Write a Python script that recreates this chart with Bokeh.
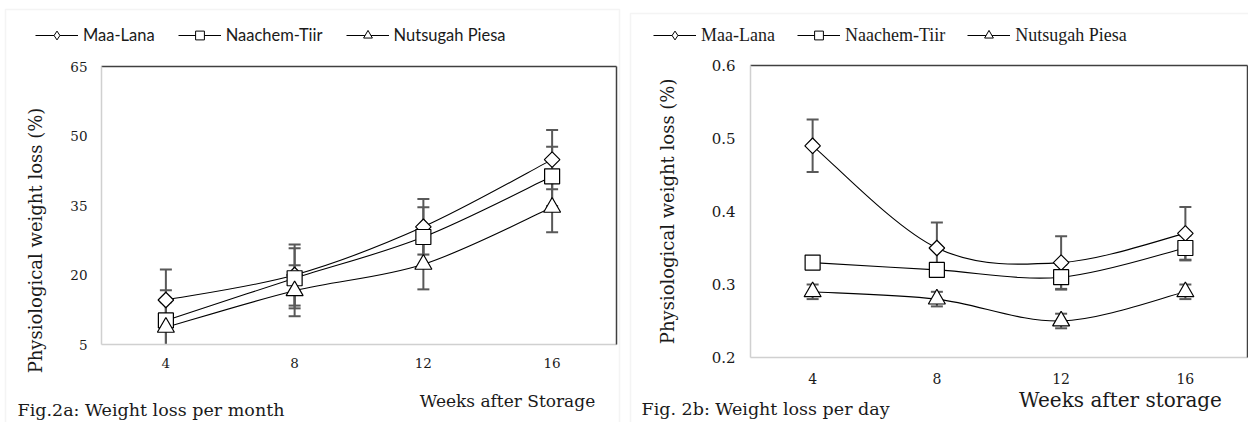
import math
from bokeh.plotting import figure
from bokeh.models import (Range1d, FixedTicker, LinearAxis, Legend, LegendItem,
                          Label, BoxAnnotation)
from bokeh.layouts import row
from bokeh.embed import file_html
from bokeh.resources import INLINE

# ---------------- data ----------------
weeks = [4, 8, 12, 16]
week_labels = ["4", "8", "12", "16"]
series_names = ["Maa-Lana", "Naachem-Tiir", "Nutsugah Piesa"]

# Fig 2a: weight loss per month (%)
month_maa = [14.6, 20.0, 30.4, 44.9]
month_naa = [10.2, 19.3, 28.2, 41.3]
month_nut = [8.7, 16.6, 22.3, 34.6]
month_maa_err = [6.6, 6.6, 6.0, 6.4]
month_naa_err = [6.5, 6.5, 6.4, 6.4]
month_nut_err = [5.4, 5.5, 5.4, 5.4]
month_yticks = [5, 20, 35, 50, 65]

# Fig 2b: weight loss per day (%)
day_maa = [0.49, 0.35, 0.33, 0.37]
day_naa = [0.33, 0.32, 0.31, 0.35]
day_nut = [0.29, 0.28, 0.25, 0.29]
day_maa_err = [0.036, 0.035, 0.036, 0.036]
day_naa_err = [0.005, 0.005, 0.017, 0.017]
day_nut_err = [0.010, 0.010, 0.010, 0.010]
day_yticks = [0.2, 0.3, 0.4, 0.5, 0.6]

# ---------------- style ----------------
DARK = "#404040"
LIGHT = "#d0d0d0"
ERRC = "#595959"
TXT = "#1a1a1a"
SERIF = "DejaVu Serif"
H = 422


def smooth_segments(xs, ys):
    """Excel-like smoothed line: cubic Bezier segments through the data points."""
    n = len(xs)
    out = dict(x0=[], y0=[], x1=[], y1=[], cx0=[], cy0=[], cx1=[], cy1=[])
    for i in range(n - 1):
        xp, yp = (xs[i - 1], ys[i - 1]) if i > 0 else (xs[i], ys[i])
        xn, yn = (xs[i + 2], ys[i + 2]) if i + 2 < n else (xs[i + 1], ys[i + 1])
        out["x0"].append(xs[i]); out["y0"].append(ys[i])
        out["x1"].append(xs[i + 1]); out["y1"].append(ys[i + 1])
        out["cx0"].append(xs[i] + (xs[i + 1] - xp) / 6.0)
        out["cy0"].append(ys[i] + (ys[i + 1] - yp) / 6.0)
        out["cx1"].append(xs[i + 1] - (xn - xs[i]) / 6.0)
        out["cy1"].append(ys[i + 1] - (yn - ys[i]) / 6.0)
    return out


def build_panel(width, area, xlim, ylim, yticks, tick_font_y, tick_font_x,
                y_standoff, x_standoff, values, errs, marker_sizes, legend_font,
                legend_font_size, legend_x, legend_spacing, texts, panel_box):
    # area = pixel box (left, right, top, bottom) of the plotting area inside the canvas
    aL, aR, aT, aB = area
    sx = (aR - aL) / (xlim[1] - xlim[0])
    sy = (aB - aT) / (ylim[1] - ylim[0])
    xr = Range1d(xlim[0] - aL / sx, xlim[1] + (width - aR) / sx)
    yr = Range1d(ylim[0] - (H - aB) / sy, ylim[1] + aT / sy)

    p = figure(width=width, height=H, output_backend="svg", toolbar_location=None,
               x_range=xr, y_range=yr, min_border=0,
               min_border_left=0, min_border_right=0, min_border_top=0,
               min_border_bottom=0, x_axis_type=None, y_axis_type=None)
    p.outline_line_color = None
    p.xgrid.visible = False
    p.ygrid.visible = False
    p.background_fill_color = "white"
    p.border_fill_color = "white"

    # main axes (light grey lines) pinned to the plotting area
    xa = LinearAxis(ticker=FixedTicker(ticks=weeks), fixed_location=ylim[0], bounds=xlim,
                    major_label_overrides={w: l for w, l in zip(weeks, week_labels)})
    ya = LinearAxis(ticker=FixedTicker(ticks=yticks), fixed_location=xlim[0], bounds=ylim)
    for ax, fs, so in ((xa, tick_font_x, x_standoff), (ya, tick_font_y, y_standoff)):
        ax.axis_line_color = LIGHT
        ax.axis_line_width = 1.5
        ax.major_tick_line_color = None
        ax.minor_tick_line_color = None
        ax.major_tick_out = 0
        ax.major_tick_in = 0
        ax.minor_tick_out = 0
        ax.minor_tick_in = 0
        ax.major_label_text_font = SERIF
        ax.major_label_text_font_size = fs
        ax.major_label_text_color = TXT
        ax.major_label_standoff = so
    p.add_layout(xa, "below")
    p.add_layout(ya, "left")

    # dark frame edges on top and right
    for place, loc, bnd in (("above", ylim[1], xlim), ("right", xlim[1], ylim)):
        ed = LinearAxis(ticker=FixedTicker(ticks=[]), axis_line_color=DARK,
                        axis_line_width=1.5, major_tick_line_color=None,
                        minor_tick_line_color=None, major_tick_out=0, minor_tick_out=0,
                        major_tick_in=0, minor_tick_in=0, major_label_standoff=0,
                        major_label_text_font_size="0px", fixed_location=loc, bounds=bnd)
        p.add_layout(ed, place)

    # error bars (stopped at the bottom of the value axis)
    for vals, err in zip(values, errs):
        lo = [max(v - e, ylim[0]) for v, e in zip(vals, err)]
        hi = [v + e for v, e in zip(vals, err)]
        p.segment(x0=weeks, y0=lo, x1=weeks, y1=hi, line_color=ERRC, line_width=2)
        p.scatter(x=weeks, y=hi, marker="dash", size=12, line_color=ERRC, line_width=2)
        lo_vis = [(w, v - e) for w, v, e in zip(weeks, vals, err) if v - e > ylim[0]]
        if lo_vis:
            p.scatter(x=[a for a, _ in lo_vis], y=[b for _, b in lo_vis], marker="dash",
                      size=12, line_color=ERRC, line_width=2)

    # smoothed lines
    for vals in values:
        seg = smooth_segments(weeks, vals)
        p.bezier(source=seg, x0="x0", y0="y0", x1="x1", y1="y1", cx0="cx0", cy0="cy0",
                 cx1="cx1", cy1="cy1", line_color="black", line_width=1.1)

    # legend helpers: one-point renderers hidden under the first real marker
    legend_markers = ["diamond", "square", "triangle"]
    legend_parts = []
    for vals, lm in zip(values, legend_markers):
        lr = p.line(x=weeks[:1], y=vals[:1], line_color="black", line_width=1.1)
        mr = p.scatter(x=weeks[:1], y=vals[:1], marker=lm, size=1, fill_color="white",
                       line_color="black", line_width=1.0)
        legend_parts.append((lr, mr))

    # markers
    markers = [("square", math.pi / 4, marker_sizes[0]), ("square", 0, marker_sizes[1]),
               ("triangle", 0, marker_sizes[2])]
    items = []
    for name, vals, (mk, ang, sz), (lr, mr) in zip(series_names, values, markers,
                                                   legend_parts):
        p.scatter(x=weeks, y=vals, marker=mk, angle=ang, size=sz,
                  fill_color="white", line_color="black", line_width=1.2)
        items.append(LegendItem(label=name, renderers=[lr, mr]))

    leg = Legend(items=items, orientation="horizontal", location=(legend_x, H - 26 - 20),
                 glyph_width=43, glyph_height=22, label_standoff=5, spacing=legend_spacing,
                 padding=0, margin=0, border_line_color=None, background_fill_alpha=0,
                 label_text_font=legend_font, label_text_font_size=legend_font_size,
                 label_text_color=TXT, label_height=20)
    p.add_layout(leg)

    for t in texts:
        t = dict(t)
        t["y"] = H - t["y"]
        p.add_layout(Label(x_units="screen", y_units="screen", text_font=SERIF,
                           text_color=TXT, **t))

    p.add_layout(BoxAnnotation(left=panel_box[0], right=panel_box[1], top=H - panel_box[2],
                               bottom=H - panel_box[3], left_units="screen",
                               right_units="screen", top_units="screen",
                               bottom_units="screen", fill_alpha=0,
                               line_color="#d9d9d9", line_width=1.5, level="underlay"))
    return p


p1 = build_panel(
    626, (101, 616, 66, 344), (2, 18), (5, 65), month_yticks, "13.5px", "13.5px", 14, 13,
    [month_maa, month_naa, month_nut], [month_maa_err, month_naa_err, month_nut_err],
    (11, 15, 17), "Lato", "16.5px", 35, 23,
    [dict(x=35, y=240, text="Physiological weight loss (%)", angle=math.pi / 2,
          text_align="center", text_baseline="middle", text_font_size="18px"),
     dict(x=507, y=400, text="Weeks after Storage", text_align="center",
          text_baseline="middle", text_font_size="17px"),
     dict(x=17, y=409, text="Fig.2a:  Weight loss per month", text_align="left",
          text_baseline="middle", text_font_size="17.5px")],
    (5, 619, 9, 440))

p2 = build_panel(
    622, (124, 621, 65, 357), (2, 18), (0.2, 0.6), day_yticks, "15px", "14px", 15, 15,
    [day_maa, day_naa, day_nut], [day_maa_err, day_naa_err, day_nut_err],
    (11, 15, 17), "Liberation Serif", "18px", 27, 22,
    [dict(x=41, y=208, text="Physiological weight loss  (%)", angle=math.pi / 2,
          text_align="center", text_baseline="middle", text_font_size="18px"),
     dict(x=494, y=399, text="Weeks after storage", text_align="center",
          text_baseline="middle", text_font_size="20px"),
     dict(x=15, y=408, text="Fig. 2b: Weight  loss per day", text_align="left",
          text_baseline="middle", text_font_size="17.5px")],
    (4, 700, 13, 440))

layout = row(p1, p2, spacing=0)
open("out.html", "w").write(file_html(layout, INLINE))
